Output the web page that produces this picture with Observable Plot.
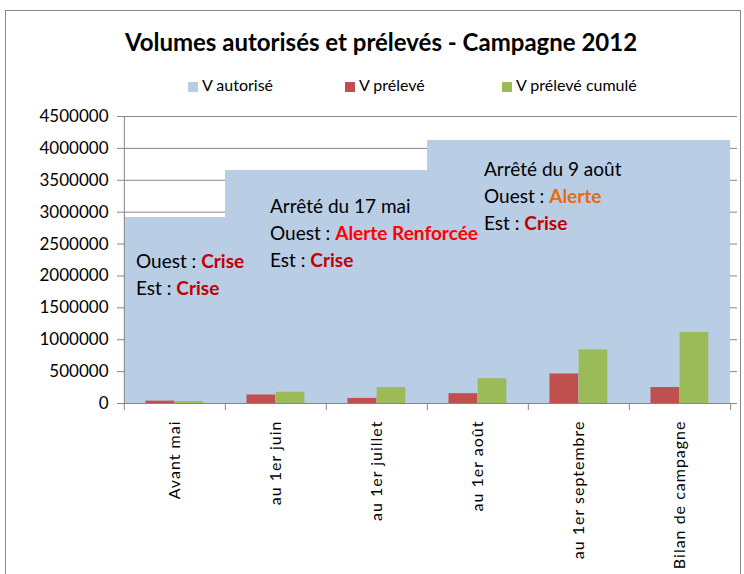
<!DOCTYPE html>
<html><head><meta charset="utf-8">
<script src="https://cdn.jsdelivr.net/npm/d3@7"></script>
<script src="https://cdn.jsdelivr.net/npm/@observablehq/plot@0.6"></script>
<style>
body{margin:0;width:744px;height:574px;overflow:hidden;position:relative;background:#fff;font-family:Lato,sans-serif;color:#000}
#frame{position:absolute;left:5px;top:10px;width:736px;height:620px;border:1px solid #878787;box-sizing:border-box}
#title{position:absolute;left:0;width:762px;top:27px;text-align:center;font-weight:bold;font-size:24px;line-height:30px;white-space:nowrap}
#legend{position:absolute;left:0;top:75px;width:744px;height:20px;font-size:16px}
.item{position:absolute;top:0;line-height:20px;white-space:nowrap}
.sw{display:inline-block;width:10px;height:10px;margin-right:4px;vertical-align:-1px}
#chart{position:absolute;left:0;top:106px}
</style></head>
<body>
<div id="frame"></div>
<div id="title">Volumes autorisés et prélevés - Campagne 2012</div>
<div id="legend"></div>
<div id="chart"></div>
<script>
const categories = ["Avant mai","au 1er juin","au 1er juillet","au 1er août","au 1er septembre","Bilan de campagne"];
const seriesNames = ["V autorisé","V prélevé","V prélevé cumulé"];
const seriesColors = ["#B9CDE5","#C0504D","#9BBB59"];
const vAutorise = [2920000,3650000,3650000,4125000,4125000,4125000];
const vPreleve = [37000,133000,80000,154000,463000,250000];
const vCumule = [27000,176000,250000,388000,840000,1112000];
const yTicks = [0,500000,1000000,1500000,2000000,2500000,3000000,3500000,4000000,4500000];

const annotations = [
  {category:"Avant mai", value:2117000, dx:12, lines:[
    [["Ouest : ","#000",false],["Crise","#C00000",true]],
    [["Est : ","#000",false],["Crise","#C00000",true]]]},
  {category:"au 1er juin", value:2979000, dx:45, lines:[
    [["Arrêté du 17 mai","#000",false]],
    [["Ouest : ","#000",false],["Alerte Renforcée","#FF0000",true]],
    [["Est : ","#000",false],["Crise","#C00000",true]]]},
  {category:"au 1er août", value:3559000, dx:57, lines:[
    [["Arrêté du 9 août","#000",false]],
    [["Ouest : ","#000",false],["Alerte","#E46C0A",true]],
    [["Est : ","#000",false],["Crise","#C00000",true]]]}
];

// legend
const legendX = [188,345,502];
const leg = document.getElementById("legend");
seriesNames.forEach((n,i)=>{
  const d = document.createElement("div");
  d.className="item"; d.style.left=legendX[i]+"px";
  d.innerHTML = `<span class="sw" style="background:${seriesColors[i]}"></span>${n}`;
  leg.appendChild(d);
});

const data = categories.map((c,i)=>({category:c, autorise:vAutorise[i], preleve:vPreleve[i], cumule:vCumule[i]}));
const W=744, H=468, mL=123, mR=13, mT=10, mB=171;
const bw = (W-mL-mR)/categories.length;
const grey = "#868686";

const plot = Plot.plot({
  width:W, height:H, marginLeft:mL, marginRight:mR, marginTop:mT, marginBottom:mB,
  style:{fontFamily:"Lato, sans-serif", color:"#000", background:"transparent", overflow:"visible"},
  x:{type:"band", domain:categories, padding:0},
  y:{domain:[0,4500000]},
  marks:[
    Plot.ruleY(yTicks, {stroke:grey, insetLeft:-6, insetRight:-6}),
    Plot.barY(data, {x:"category", y:"autorise", fill:seriesColors[0], shapeRendering:"crispEdges"}),
    Plot.barY(data, {x:"category", y:"preleve", fill:seriesColors[1], insetLeft:0.212*bw, insetRight:0.5*bw}),
    Plot.barY(data, {x:"category", y:"cumule", fill:seriesColors[2], insetLeft:0.5*bw, insetRight:0.214*bw}),
    Plot.ruleY([0], {stroke:grey}),
    Plot.ruleX([categories[0]], {x:d=>d, dx:-bw/2, stroke:grey}),
    Plot.ruleX(categories, {x:d=>d, dx:-bw/2, y1:0, y2:0, insetBottom:-7, stroke:grey}),
    Plot.ruleX([categories[categories.length-1]], {x:d=>d, dx:bw/2, y1:0, y2:0, insetBottom:-7, stroke:grey}),
    Plot.axisY({ticks:yTicks, tickSize:0, tickPadding:15, tickFormat:d3.format("d"), fontSize:17, label:null}),
    Plot.axisX({tickSize:0, tickRotate:-90, tickPadding:17, fontSize:16, label:null})
  ]
});
document.getElementById("chart").appendChild(plot);

const svg = d3.select(plot);
svg.selectAll("g[aria-label='x-axis tick label'] text").attr("letter-spacing","1px");

const xs = plot.scale("x"), ys = plot.scale("y");
annotations.forEach(a=>{
  const x0 = xs.apply(a.category) + a.dx;
  const y0 = ys.apply(a.value);
  a.lines.forEach((line,li)=>{
    const t = svg.append("text").attr("x",x0).attr("y",y0+li*27)
      .attr("text-anchor","start")
      .attr("font-family","Lato, sans-serif").attr("font-size",19);
    line.forEach(([s,c,b])=>{
      t.append("tspan").attr("fill",c).attr("font-weight",b?"bold":"normal").attr("xml:space","preserve").text(s);
    });
  });
});
</script>
</body></html>
